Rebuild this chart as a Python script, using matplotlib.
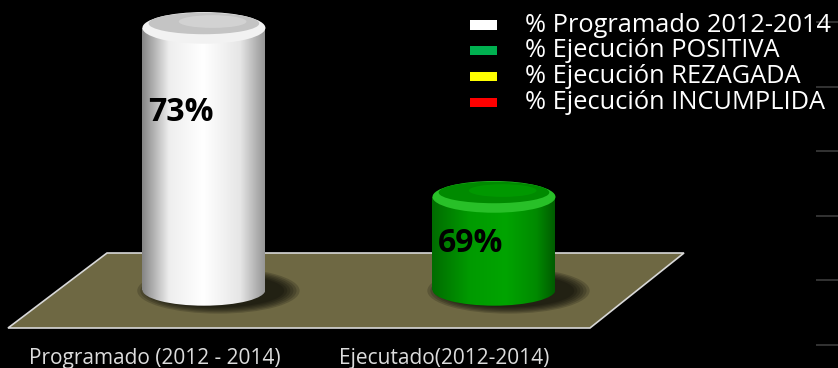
import matplotlib
matplotlib.use("Agg")
import matplotlib.pyplot as plt
import numpy as np
from matplotlib.patches import Rectangle, Ellipse, Polygon
from matplotlib.colors import LinearSegmentedColormap

# data
categories = ["Programado (2012 - 2014)", "Ejecutado(2012-2014)"]
values = [73, 69]
bar_colors = ["white", "green"]
legend_labels = ["% Programado 2012-2014", "% Ejecución POSITIVA",
                 "% Ejecución REZAGADA", "% Ejecución INCUMPLIDA"]
legend_colors = ["#ffffff", "#00b050", "#ffff00", "#ff0000"]
base = 66.8

plt.rcParams["font.family"] = ["Open Sans", "DejaVu Sans"]

fig = plt.figure(figsize=(8.38, 3.68), dpi=100, facecolor="black")
ax = fig.add_axes([0, 0, 1, 1])
ax.set_facecolor("black")
ax.set_xlim(-0.703, 2.186)
ax.set_ylim(64.95, 73.66)
for s in ax.spines.values():
    s.set_visible(False)

# faint grid dashes on the right edge
ax.set_yticks(np.linspace(65.5, 73.14, 6))
ax.set_xticks([])
ax.tick_params(axis="y", direction="in", length=16, width=1.2, color="#3c3c3c",
               left=False, right=True, labelleft=False, labelright=False)

# floor
W, H = 838.0, 368.0
floor_px = [(107, 253), (684, 253), (590, 328), (8, 328)]
floor = Polygon([(x / W, 1 - y / H) for x, y in floor_px], closed=True,
                transform=ax.transAxes, facecolor="#6e6843", edgecolor="#d8d8d8",
                lw=1.2, zorder=1)
ax.add_patch(floor)

cmaps = {
    "white": LinearSegmentedColormap.from_list(
        "w", [(0, "#858585"), (0.22, "#eeeeee"), (0.5, "#ffffff"),
              (0.8, "#e6e6e6"), (1, "#969696")]),
    "green": LinearSegmentedColormap.from_list(
        "g", [(0, "#006c00"), (0.3, "#009a00"), (0.6, "#00a400"),
              (0.85, "#008a00"), (1, "#005c00")]),
}
cap_cols = {"white": ("#f2f2f2", "#c4c4c4", "#d6d6d6"),
            "green": ("#28c028", "#008a00", "#009c00")}

w = 0.424
eh = 0.75
grad = np.linspace(0, 1, 256).reshape(1, -1)

for i, (v, c) in enumerate(zip(values, bar_colors)):
    x0, x1 = i - w / 2, i + w / 2

    # shadow on the floor
    for k in range(6):
        sh = Ellipse((i + 0.05, base - 0.02), w * (1.32 - 0.05 * k), eh * (1.45 - 0.08 * k),
                     facecolor="black", edgecolor="none", alpha=0.17, zorder=2)
        ax.add_patch(sh)

    # body: gradient clipped to rectangle and bottom ellipse
    for clip in (Rectangle((x0, base), w, v - base, transform=ax.transData),
                 Ellipse((i, base), w, eh, transform=ax.transData)):
        im = ax.imshow(grad, cmap=cmaps[c], aspect="auto",
                       extent=(x0, x1, base - eh, v + eh), zorder=3,
                       interpolation="bilinear")
        im.set_clip_path(clip)

    # top cap with a bright bevel at the front
    rim, top, hi = cap_cols[c]
    ax.add_patch(Ellipse((i, v), w, eh, facecolor=rim, edgecolor="none", zorder=4))
    ax.add_patch(Ellipse((i, v + 0.14 * eh), w * 0.9, eh * 0.68,
                         facecolor=top, edgecolor="none", zorder=5))
    ax.add_patch(Ellipse((i + 0.03, v + 0.2 * eh), w * 0.55, eh * 0.4,
                         facecolor=hi, edgecolor="none", alpha=0.8, zorder=5))

    # value label
    ly = max(v - 2, (v + base) / 2)
    ax.text(i - 0.08, ly, f"{v}%", ha="center", va="center", fontsize=23,
            fontweight="bold", color="black", zorder=6)

# category labels
xt = ax.get_xaxis_transform()
for i, cat in enumerate(categories):
    ax.text(i - 0.17, 0.027, cat, transform=xt, ha="center", va="center",
            fontsize=15, color="#dcdcdc")

# legend
for k, (lab, col) in enumerate(zip(legend_labels, legend_colors)):
    yc = 25 + 25.7 * k
    fig.patches.append(Rectangle((470 / W, 1 - (yc + 4.5) / H), 27 / W, 9 / H,
                                 transform=fig.transFigure, facecolor=col,
                                 edgecolor="none"))
    fig.text(525 / W, 1 - yc / H, lab, ha="left", va="center", fontsize=18.3,
             color="white")

fig.savefig("out.png", dpi=100, facecolor="black")
